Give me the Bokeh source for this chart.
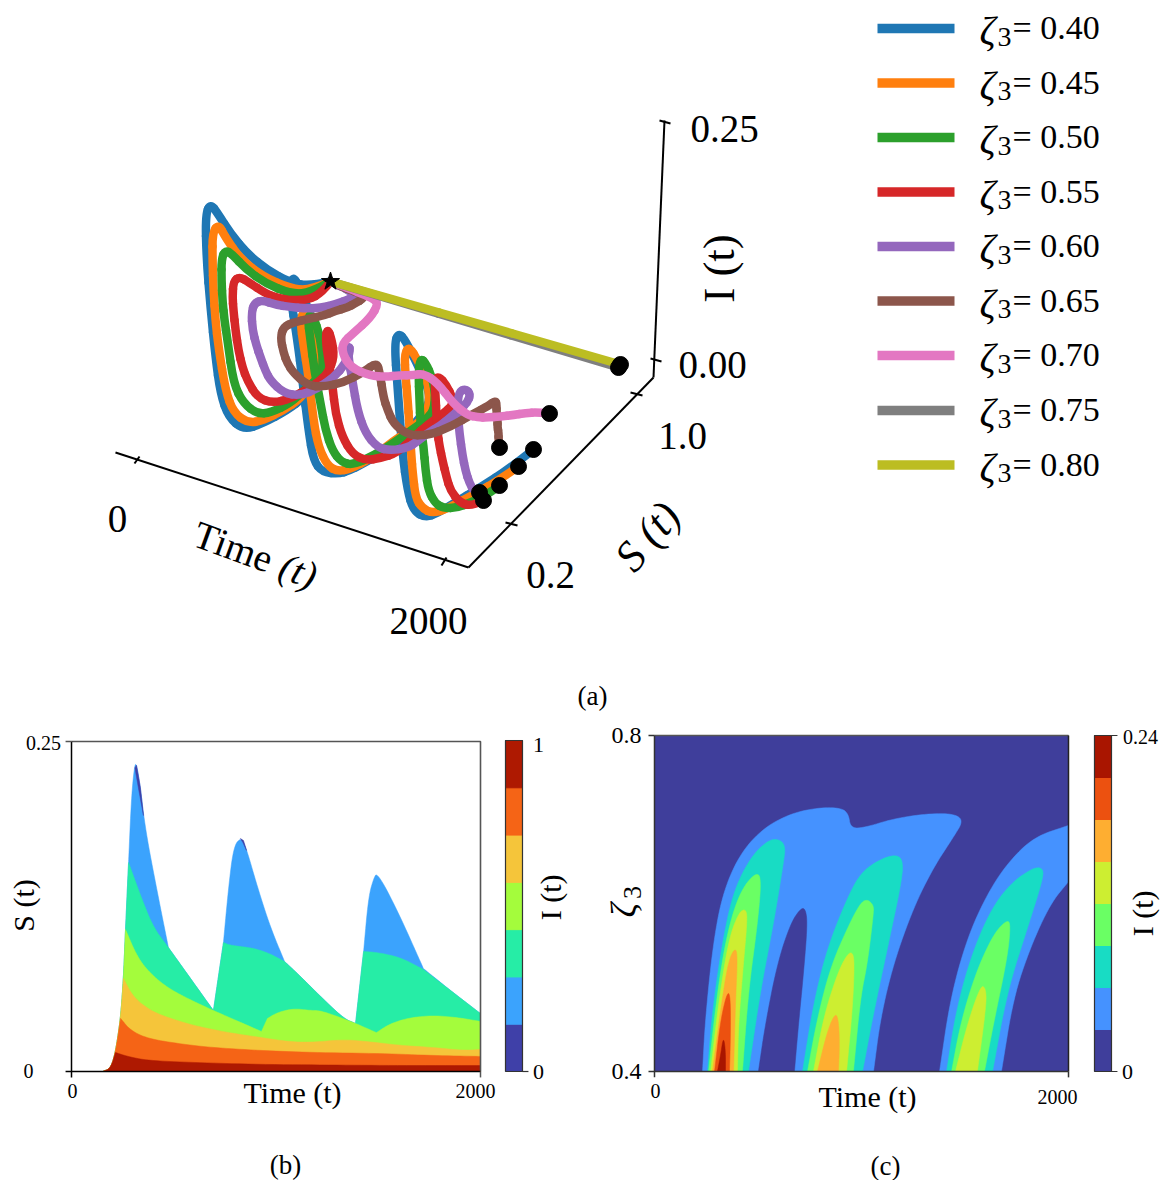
from bokeh.plotting import figure
from bokeh.layouts import column, row
from bokeh.core.properties import value
from bokeh.embed import file_html
from bokeh.resources import INLINE

SERIF = "Liberation Serif"

# ---------- panel (a): values ----------
zeta3 = ["0.40", "0.45", "0.50", "0.55", "0.60", "0.65", "0.70", "0.75", "0.80"]
curve_colors = ["#1f77b4", "#ff7f0e", "#2ca02c", "#d62728", "#9467bd", "#8c564b", "#e377c2", "#7f7f7f", "#bcbd22"]

time_40 = list(range(0, 2001, 40))
time_50 = list(range(0, 2001, 50))
time_80 = list(range(0, 2001, 80))
time_500 = [0, 500, 1000, 1500, 2000]

S_040 = [1.000,.870,.740,.595,.465,.350,.255,.190,.135,.110,.100,.095,.090,.100,.145,.210,.305,.355,.410,.390,.310,.215,.150,.105,.115,.110,.110,.105,.120,.170,.195,.220,.290,.360,.415,.440,.415,.340,.235,.170,.120,.105,.100,.095,.095,.125,.155,.205,.310,.430,.515]
I_040 = [0,.023,.054,.097,.141,.186,.227,.251,.253,.216,.170,.123,.089,.065,.045,.040,.036,.040,.046,.073,.131,.185,.211,.207,.156,.119,.071,.043,.030,.020,.020,.022,.021,.025,.032,.044,.064,.102,.155,.177,.178,.139,.075,.041,.022,.011,.011,.012,.009,.006,.009]
S_045 = [1.000,.870,.740,.570,.430,.325,.260,.200,.170,.145,.125,.110,.115,.125,.165,.215,.285,.340,.380,.355,.295,.235,.190,.175,.170,.165,.160,.175,.195,.230,.300,.385,.455,.495,.475,.435,.355,.285,.230,.205,.185,.165,.145,.120,.105,.110,.130,.175,.295,.365,.440]
I_045 = [0,.019,.048,.096,.143,.187,.215,.220,.200,.176,.152,.130,.087,.065,.048,.042,.040,.042,.056,.085,.128,.158,.156,.138,.110,.068,.044,.024,.016,.013,.011,.013,.014,.023,.042,.070,.108,.137,.143,.127,.111,.087,.062,.056,.033,.023,.016,.013,.007,.006,.007]
S_050 = [1.000,.870,.740,.585,.455,.360,.295,.245,.215,.190,.170,.155,.155,.175,.215,.250,.320,.365,.400,.395,.350,.280,.225,.210,.200,.200,.195,.200,.215,.245,.315,.385,.455,.485,.495,.475,.430,.365,.310,.270,.245,.220,.205,.185,.170,.175,.185,.225,.260,.305,.345]
I_050 = [0,.016,.043,.086,.128,.163,.182,.185,.171,.157,.143,.128,.086,.064,.047,.043,.040,.047,.052,.067,.106,.145,.155,.136,.109,.078,.054,.034,.021,.014,.011,.011,.013,.017,.026,.047,.075,.105,.122,.117,.096,.078,.062,.043,.027,.015,.010,.004,.004,.003,.007]
S_055 = [1.000,.930,.830,.710,.615,.525,.410,.335,.275,.240,.215,.195,.180,.170,.165,.185,.230,.290,.360,.370,.385,.390,.345,.295,.255,.240,.230,.215,.220,.240,.275,.320,.375,.425,.470,.515,.530,.500,.440,.370,.320,.295,.270,.245,.225,.210,.200,.190,.210,.240,.265]
I_055 = [0,.005,.019,.044,.067,.091,.127,.149,.158,.151,.144,.130,.114,.101,.090,.071,.058,.052,.051,.056,.063,.080,.109,.131,.130,.113,.092,.068,.045,.026,.014,.009,.005,.012,.018,.021,.028,.043,.069,.094,.101,.093,.079,.069,.061,.051,.038,.028,.013,.006,.008]
S_060 = [1.000,.990,.980,.975,.970,.965,.955,.890,.785,.680,.575,.470,.365,.270,.200,.155,.130,.120,.110,.105,.100,.135,.190,.245,.295,.325,.320,.280,.250,.240,.235,.245,.275,.310,.365,.385,.405,.440,.460,.480,.485,.470,.415,.350,.315,.295,.280,.265,.255,.250,.245]
I_060 = [0,.002,.003,.004,.003,.004,.006,.016,.033,.052,.074,.098,.123,.148,.161,.162,.151,.139,.131,.120,.113,.095,.083,.081,.083,.093,.109,.123,.118,.099,.072,.049,.030,.022,.015,.019,.025,.027,.033,.039,.046,.059,.077,.088,.078,.061,.044,.033,.024,.018,.020]
S_065 = [1.000,.993,.990,.988,.985,.968,.940,.863,.785,.688,.590,.478,.365,.278,.225,.203,.185,.178,.210,.253,.315,.378,.405,.383,.365,.348,.340,.373,.435,.513,.590,.628,.625,.593,.555,.523,.485,.453,.415,.383,.345]
I_065 = [0,.001,0,0,0,.003,.007,.020,.033,.051,.068,.089,.110,.125,.127,.118,.113,.107,.090,.082,.076,.076,.082,.079,.059,.052,.042,.026,.015,.010,.010,.012,.020,.024,.026,.027,.029,.032,.034,.039,.045]
S_070 = [1.000,.995,.990,.980,.970,.940,.840,.695,.580,.520,.500,.540,.555,.570,.570,.565,.575,.595,.605,.595,.585,.590,.595,.595,.595,.595]
I_070 = [0,0,0,.001,.002,.006,.015,.032,.048,.053,.046,.033,.032,.034,.037,.043,.035,.013,.003,.006,.011,.014,.018,.023,.027,.029]
S_075 = [1.000,.985,.970,.955,.940]
I_075 = [0,.0015,.003,.0045,.006]
S_080 = [1.000,.9875,.975,.9625,.950]
I_080 = [0,.002,.0035,.0055,.007]

curves = [
    (time_40, S_040, I_040), (time_40, S_045, I_045), (time_40, S_050, I_050),
    (time_40, S_055, I_055), (time_40, S_060, I_060), (time_50, S_065, I_065),
    (time_80, S_070, I_070), (time_500, S_075, I_075), (time_500, S_080, I_080),
]

# ---------- panel (b) ----------
band_colors_b = ["#3f40a8", "#3ba3fd", "#26eda6", "#a4fc3c", "#f5c53a", "#f56416", "#ae1901"]
time_env = [152,191,215,240,254,264,279,293,308,318,337,362,421,474,694,743,768,792,826,851,910,973,1042,1120,1203,1330,1389,1428,1452,1477,1496,1594,1721,1853,2000]
S_env = [0,.0023,.0144,.0402,.0705,.1076,.1583,.2076,.2318,.2333,.2152,.1826,.1348,.0939,.0462,.0977,.1394,.1697,.1773,.1712,.1394,.1091,.0833,.0720,.0591,.0402,.0364,.0902,.1318,.1462,.1508,.1220,.0780,.0614,.0439]
time_l2 = [152,191,215,240,254,264,279,347,401,474,694,743,778,875,958,1042,1120,1203,1330,1389,1428,1496,1609,1721,1853,2000]
S_l2 = [0,.0023,.0144,.0402,.0705,.1076,.1583,.1295,.1091,.0939,.0462,.0977,.0955,.0939,.0902,.0833,.0720,.0591,.0402,.0364,.0909,.0902,.0864,.0773,.0614,.0439]
time_l3 = [152,191,215,240,254,264,323,386,469,567,694,929,958,1007,1086,1169,1218,1340,1389,1491,1560,1658,1770,1888,2000]
S_l3 = [0,.0023,.0144,.0402,.0705,.1076,.0864,.0742,.0636,.0553,.0462,.0303,.0402,.0447,.0477,.0462,.0462,.0394,.0364,.0295,.0364,.0409,.0424,.0409,.0379]
time_l4 = [152,191,215,240,254,303,386,469,597,763,924,1056,1169,1330,1447,1609,1770,1917,2000]
S_l4 = [0,.0023,.0144,.0402,.0705,.0561,.0462,.0409,.0348,.0295,.0258,.0227,.0220,.0242,.0227,.0197,.0182,.0159,.0167]
time_l5 = [152,191,215,240,289,372,518,680,924,1169,1526,1770,2000]
S_l5 = [0,.0023,.0144,.0402,.0311,.0250,.0212,.0182,.0159,.0144,.0136,.0121,.0114]
time_l6 = [152,191,215,274,372,597,924,1281,1609,2000]
S_l6 = [0,.0023,.0144,.0114,.0083,.0068,.0053,.0049,.0045,.0045]
time_tip1 = [310,318,337,352,332]
S_tip1 = [.2300,.2320,.2152,.1939,.2106]
time_tip2 = [826,841,856,838]
S_tip2 = [.1765,.1750,.1674,.1735]

# ---------- panel (c) ----------
level_colors_c = ["#3f3e9b", "#4592ff", "#18dcc4", "#6aff64", "#cdee31", "#feae31", "#ec5110", "#a91500"]
t_blue_a = [232,246,285,333,415,527,657,787,899,937,947,1010,1155,1319,1444,1493,1444,1348,1251,1155,1092,1058]
z_blue_a = [.400,.464,.556,.615,.660,.690,.707,.714,.714,.707,.690,.690,.701,.707,.707,.699,.679,.643,.595,.529,.464,.400]
t_hole = [502,536,594,657,705,729,739,720,696,676]
z_hole = [.400,.457,.529,.576,.594,.594,.576,.517,.457,.400]
t_blue_b = [1377,1430,1512,1609,1705,1831,2000]
z_blue_b = [.400,.488,.560,.612,.648,.679,.693]
t_blue_b2 = [2000,1913,1816,1734,1676]
z_blue_b2 = [.626,.600,.548,.488,.400]
t_teal_a = [256,280,329,382,464,546,599,633,623,575,512,454]
z_teal_a = [.400,.473,.556,.615,.655,.675,.677,.669,.648,.576,.496,.400]
t_teal_b = [715,768,836,932,995,1077,1155,1198,1198,1130,1058,1005]
z_teal_b = [.400,.481,.548,.607,.636,.651,.658,.654,.631,.552,.469,.400]
t_teal_c = [1411,1454,1527,1623,1720,1831,1879,1874,1802,1705,1633]
z_teal_c = [.400,.469,.536,.592,.624,.643,.642,.627,.571,.496,.400]
t_green_a = [261,304,353,415,488,517,498,454,425]
z_green_a = [.400,.496,.568,.615,.637,.631,.576,.496,.400]
t_green_b = [739,787,850,932,995,1029,1058,1058,1029,995,961]
z_green_b = [.400,.464,.524,.571,.601,.605,.598,.588,.529,.488,.400]
t_green_c = [1435,1478,1551,1638,1705,1720,1705,1638,1594]
z_green_c = [.400,.457,.517,.564,.581,.574,.536,.457,.400]
t_yellow_a = [271,309,357,406,440,449,430,406,401]
z_yellow_a = [.400,.481,.556,.589,.594,.582,.529,.457,.400]
t_yellow_b = [768,816,884,932,957,966,957,928]
z_yellow_b = [.400,.464,.517,.540,.542,.529,.476,.400]
t_yellow_c = [1454,1512,1575,1599,1604,1560]
z_yellow_c = [.400,.457,.502,.500,.481,.400]
t_orange_a = [280,319,357,391,401,391,382]
z_orange_a = [.400,.473,.532,.548,.536,.481,.400]
t_orange_b = [787,836,874,889,894,889]
z_orange_b = [.400,.449,.470,.461,.433,.400]
t_deep = [290,319,353,367,367,362]
z_deep = [.400,.461,.496,.488,.440,.400]
t_red = [304,319,333,343,343]
z_red = [.400,.419,.442,.425,.400]


def rounded(xs, ys, corners=(), rounds=3):
    """Corner-rounded outline for drawing (contour edges), keeping the listed vertices sharp."""
    stops = [0] + sorted(corners) + [len(xs) - 1]
    out_x, out_y = [], []
    for a, b in zip(stops[:-1], stops[1:]):
        px, py = list(xs[a:b + 1]), list(ys[a:b + 1])
        for _ in range(rounds):
            nx, ny = [px[0]], [py[0]]
            for i in range(len(px) - 1):
                nx += [.75 * px[i] + .25 * px[i + 1], .25 * px[i] + .75 * px[i + 1]]
                ny += [.75 * py[i] + .25 * py[i + 1], .25 * py[i] + .75 * py[i + 1]]
            nx.append(px[-1]); ny.append(py[-1])
            px, py = nx, ny
        out_x += px; out_y += py
    return out_x, out_y


def put(p, x, y, s, size, angle=0, style="normal", align="center"):
    p.text([x], [y], text=[s], text_font=value(SERIF), text_font_size=f"{size}px", text_font_style=style,
           text_align=align, text_baseline="middle", angle=angle, angle_units="deg", text_color="black")


def project(t, s, i):
    """Fixed view of the 3-D axes: (t, S, I) to the page position of panel (a)."""
    return (330 + 0.15 * t + 200 * (s - 1), 281 + 0.04 * t + 200 * (1 - s) - 1000 * i)


def base_fig(w, h, xr, yr):
    return figure(width=w, height=h, x_range=xr, y_range=yr, x_axis_type=None, y_axis_type=None,
                  toolbar_location=None, output_backend="svg", min_border=0, outline_line_color=None)


# panel (a)
pa = base_fig(1162, 720, (0, 1162), (720, 0))
ends_x, ends_y = [], []
for (ts, ss, iis), col in zip(curves, curve_colors):
    pts = [project(t, s, i) for t, s, i in zip(ts, ss, iis)]
    x0, y0, x1, y1, cx, cy = [], [], [], [], [], []
    for k in range(1, len(pts) - 1):
        a, b, c = pts[k - 1], pts[k], pts[k + 1]
        sx, sy = a if k == 1 else ((a[0] + b[0]) / 2, (a[1] + b[1]) / 2)
        ex, ey = c if k == len(pts) - 2 else ((b[0] + c[0]) / 2, (b[1] + c[1]) / 2)
        x0.append(sx); y0.append(sy); x1.append(ex); y1.append(ey); cx.append(b[0]); cy.append(b[1])
    pa.quadratic(x0=x0, y0=y0, x1=x1, y1=y1, cx=cx, cy=cy, line_color=col, line_width=8.5, line_cap="round")
    ends_x.append(pts[-1][0]); ends_y.append(pts[-1][1])

pa.scatter(ends_x, ends_y, size=16, color="black")
sx0, sy0 = project(0, 1.0, 0)
pa.scatter([sx0], [sy0], size=19, marker="star", color="black")

frame_lines = [
    ((115, 468), (452, 567)), ((468, 653), (567, 377)), ((653, 664), (377, 120)),
    ((134, 139), (463, 456)), ((441, 446), (565, 557)), ((505, 517), (522, 525)),
    ((630, 642), (392, 395)), ((650, 661), (358, 361)), ((659, 670), (120, 123)),
]
for xs, ys in frame_lines:
    pa.line(list(xs), list(ys), line_color="black", line_width=2)

put(pa, 117, 518, "0", 39)
put(pa, 428, 620, "2000", 39)
put(pa, 550, 574, "0.2", 39)
put(pa, 682, 435, "1.0", 39)
put(pa, 712, 364, "0.00", 39)
put(pa, 724, 128, "0.25", 39)
put(pa, 233, 546, "Time", 39, angle=-20)
put(pa, 298, 570, "(t)", 39, angle=-20, style="italic")
put(pa, 647, 536, "S (t)", 44, angle=50, style="italic")
put(pa, 718, 268, "I (t)", 45, angle=90)
put(pa, 592, 695, "(a)", 27)

legend_y = [28, 82.5, 137, 191.5, 246, 300.5, 355, 410, 464.5]
for z, col, y in zip(zeta3, curve_colors, legend_y):
    pa.line([877, 954], [y, y], line_color=col, line_width=9.5)
    put(pa, 979, y + 2, "ζ", 40, style="italic", align="left")
    put(pa, 997, y + 8, "3", 28, align="left")
    put(pa, 1012, y - 1, "= " + z, 34, align="left")

# panel (b): frame spans 71..480 across, 741..1071 down
pb = base_fig(500, 460, (-347.19, 2097.8), (-.08258, .26591))
for ts, ss, col, corners in [
    (time_env, S_env, band_colors_b[1], [6, 13, 14, 15, 22, 26, 27, 32]),
    (time_l2, S_l2, band_colors_b[2], [6, 9, 10, 11, 15, 19, 20, 23]),
    (time_l3, S_l3, band_colors_b[3], [5, 10, 11, 12, 18, 19]),
    (time_l4, S_l4, band_colors_b[4], [4]),
    (time_l5, S_l5, band_colors_b[5], [3]),
    (time_l6, S_l6, band_colors_b[6], [2]),
]:
    rx, ry = rounded(ts, ss, corners)
    pb.patch(rx + [rx[-1], rx[0]], ry + [0, 0], fill_color=col, line_color=col, line_width=0.5)
pb.patch(time_tip1, S_tip1, fill_color=band_colors_b[0], line_color=band_colors_b[0], line_width=0.5)
pb.patch(time_tip2, S_tip2, fill_color=band_colors_b[0], line_color=band_colors_b[0], line_width=0.5)
pb.line([0, 2000, 2000], [.25, .25, 0], line_color="#555555", line_width=1.6)
pb.line([0, 0], [0, .25], line_color="black", line_width=1.5)
pb.line([-29, 2000], [0, 0], line_color="black", line_width=1.5)
pb.line([-29, 0], [.25, .25], line_color="#555555", line_width=1.5)
pb.line([0, 0], [-.0045, 0], line_color="black", line_width=1.5)
pb.line([2000, 2000], [-.0045, 0], line_color="#555555", line_width=1.5)
put(pb, -210, 0, "0", 20)
put(pb, -137, .2492, "0.25", 20)
put(pb, 5, -.0144, "0", 20)
put(pb, 1976, -.0144, "2000", 20)
put(pb, 1081, -.0159, "Time (t)", 30)
put(pb, -235, .1258, "S (t)", 30, angle=90)
put(pb, 1046, -.0712, "(b)", 27)

# colour bar of (b)
levels_b = [i / 7 for i in range(8)]
cb = base_fig(85, 460, (-.294, 4.706), (-.3293, 1.0604))
cb.quad(left=0, right=1, bottom=levels_b[:-1], top=levels_b[1:], fill_color=band_colors_b, line_color=band_colors_b)
cb.line([0, 1, 1, 0, 0], [0, 0, 1, 1, 0], line_color="#333333", line_width=1.2)
cb.line([1, 1.35], [0, 0], line_color="#333333", line_width=1.2)
put(cb, 1.94, .985, "1", 22)
put(cb, 1.94, -.001, "0", 22)
put(cb, 2.65, .526, "I (t)", 30, angle=90)

# panel (c): frame spans 654..1068 across, 735..1071 down
pc = base_fig(500, 460, (-333.3, 2082.1), (.2702, .8179))
pc.quad(left=0, right=2000, bottom=.4, top=.8, fill_color=level_colors_c[0], line_color=None)
regions = [
    (t_blue_a, z_blue_a, 1), (t_hole, z_hole, 0),
    (t_teal_a, z_teal_a, 2), (t_teal_b, z_teal_b, 2), (t_teal_c, z_teal_c, 2),
    (t_green_a, z_green_a, 3), (t_green_b, z_green_b, 3), (t_green_c, z_green_c, 3),
    (t_yellow_a, z_yellow_a, 4), (t_yellow_b, z_yellow_b, 4), (t_yellow_c, z_yellow_c, 4),
    (t_orange_a, z_orange_a, 5), (t_orange_b, z_orange_b, 5),
    (t_deep, z_deep, 6), (t_red, z_red, 7),
]
rx1, ry1 = rounded(t_blue_b, z_blue_b)
rx2, ry2 = rounded(t_blue_b2, z_blue_b2)
pc.patch(rx1 + rx2, ry1 + ry2, fill_color=level_colors_c[1], line_color=level_colors_c[1], line_width=0.5)
for ts, zs, lev in regions:
    rx, ry = rounded(ts, zs)
    pc.patch(rx, ry, fill_color=level_colors_c[lev], line_color=level_colors_c[lev], line_width=0.5)
pc.line([0, 2000], [.8, .8], line_color="#555555", line_width=1.6)
pc.line([2000, 2000], [.8, .4], line_color="#222222", line_width=1.5)
pc.line([0, 0], [.4, .8], line_color="#333333", line_width=1.5)
pc.line([-29, 2000], [.4, .4], line_color="#333333", line_width=1.5)
pc.line([-29, 0], [.8, .8], line_color="#333333", line_width=1.5)
pc.line([0, 0], [.393, .4], line_color="#333333", line_width=1.5)
pc.line([2000, 2000], [.393, .4], line_color="#333333", line_width=1.5)
put(pc, -135, .8, "0.8", 24)
put(pc, -135, .4, "0.4", 24)
put(pc, 5, .377, "0", 20)
put(pc, 1947, .370, "2000", 20)
put(pc, 1029, .370, "Time (t)", 30)
put(pc, -145, .592, "ζ", 36, angle=90, style="italic")
put(pc, -106, .613, "3", 26, angle=90)
put(pc, 1116, .288, "(c)", 27)

# colour bar of (c)
levels_c = [i * 0.03 for i in range(9)]
cc = base_fig(77, 460, (-.529, 4), (-.07786, .25071))
cc.quad(left=0, right=1, bottom=levels_c[:-1], top=levels_c[1:], fill_color=level_colors_c, line_color=level_colors_c)
cc.line([0, 1, 1, 0, 0], [0, 0, .24, .24, 0], line_color="#333333", line_width=1.2)
cc.line([1, 1.35], [0, 0], line_color="#333333", line_width=1.2)
cc.line([1, 1.35], [.24, .24], line_color="#333333", line_width=1.2)
put(cc, 2.706, .2386, "0.24", 20)
put(cc, 1.94, -.0007, "0", 22)
put(cc, 2.82, .1129, "I (t)", 30, angle=90)

layout = column(pa, row(pb, cb, pc, cc, spacing=0), spacing=0)
open("out.html", "w").write(file_html(layout, INLINE))
